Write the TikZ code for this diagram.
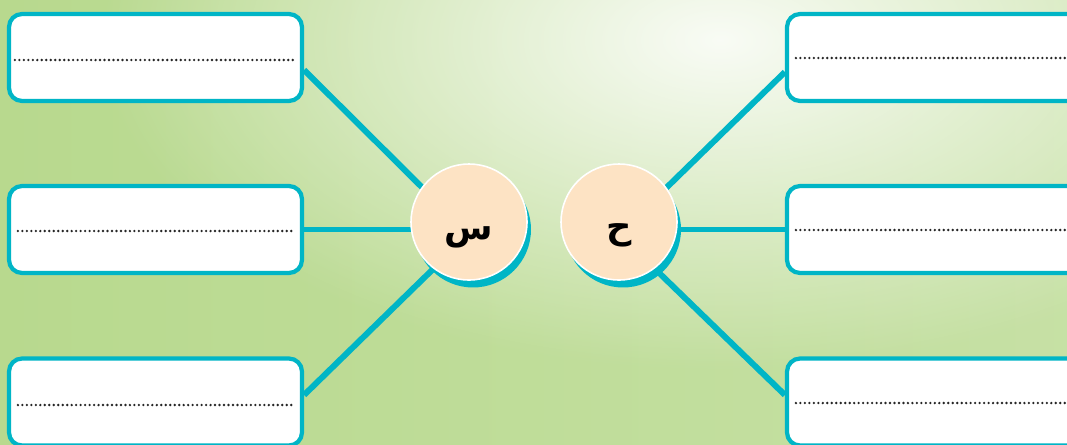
\documentclass[tikz,border=0pt]{standalone}
\usepackage{fontspec}
\newfontfamily\arabicfont[Script=Arabic]{DejaVu Sans}
\TeXXeTstate=1
\usetikzlibrary{backgrounds, calc, fadings, shadows}
\definecolor{linecyan}{RGB}{0,181,198}
\definecolor{peach}{RGB}{253,227,196}
\definecolor{leafgreen}{RGB}{184,217,142}
\definecolor{palegreen}{RGB}{226,239,206}
\tikzfading[name=softglow, inner color=transparent!0, outer color=transparent!100]
\tikzset{
    answer/.style={draw=linecyan, line width=2.4pt, fill=white, rounded corners=0.26cm, minimum width=5.86cm, minimum height=1.74cm},
    letter/.style={circle, fill=peach, draw=white, line width=0.9pt, minimum size=2.32cm, inner sep=0pt, font=\arabicfont\bfseries\fontsize{20}{24}\selectfont, drop shadow={shadow xshift=0.08cm, shadow yshift=-0.15cm, fill=linecyan, opacity=1}},
    spoke/.style={draw=linecyan, line width=3.4pt},
    dots/.style={black!85, line width=1.5pt, line cap=round, dash pattern=on 0pt off 2.55pt}
}

\begin{document}
\begin{tikzpicture}[x=0.02cm, y=-0.02cm]
\useasboundingbox (0,0) rectangle (1067,444);
\clip (0,0) rectangle (1067,444);

\node[answer] (tl) at (155.5,57.5) {};
\node[answer] (ml) at (155.5,229.5) {};
\node[answer] (bl) at (155.5,402) {};
\node[answer] (tr) at (933.5,57.5) {};
\node[answer] (mr) at (933.5,229.5) {};
\node[answer] (br) at (933.5,402) {};

\draw[dots] ($(tl.west)+(8,2.5)$) -- ($(tl.east)+(-11,2.5)$);
\draw[dots] ($(ml.west)+(11,1.5)$) -- ($(ml.east)+(-9,1.5)$);
\draw[dots] ($(bl.west)+(11,3)$) -- ($(bl.east)+(-9,3)$);
\draw[dots] ($(tr.west)+(11,0.5)$) -- ($(tr.east)+(0,0.5)$);
\draw[dots] ($(mr.west)+(11,0.5)$) -- ($(mr.east)+(0,0.5)$);
\draw[dots] ($(br.west)+(11,1)$) -- ($(br.east)+(0,1)$);

\node[letter] (sin) at (469,222) {\smash{\raisebox{-10pt}{\beginR س\endR}}};
\node[letter] (hah) at (619,222) {\smash{\raisebox{-9.5pt}{\beginR ح\endR}}};

\begin{scope}[on background layer]
\shade[left color=leafgreen, middle color=palegreen, right color=leafgreen!80!white] (0,0) rectangle (1067,444);
\fill[white, opacity=0.9, path fading=softglow] (720,40) ellipse (620 and 330);
\draw[spoke] ($(tl.east)+(0,12.5)$) -- ($(sin)+(0,12)$);
\draw[spoke] (ml.east) -- (ml.east -| sin);
\draw[spoke] ($(bl.east)+(0,-7)$) -- ($(sin)+(0,12)$);
\draw[spoke] ($(tr.west)+(0,14.5)$) -- ($(hah)+(0,12)$);
\draw[spoke] (mr.west) -- (mr.west -| hah);
\draw[spoke] ($(br.west)+(0,-7)$) -- ($(hah)+(0,12)$);
\end{scope}
\end{tikzpicture}
\end{document}
